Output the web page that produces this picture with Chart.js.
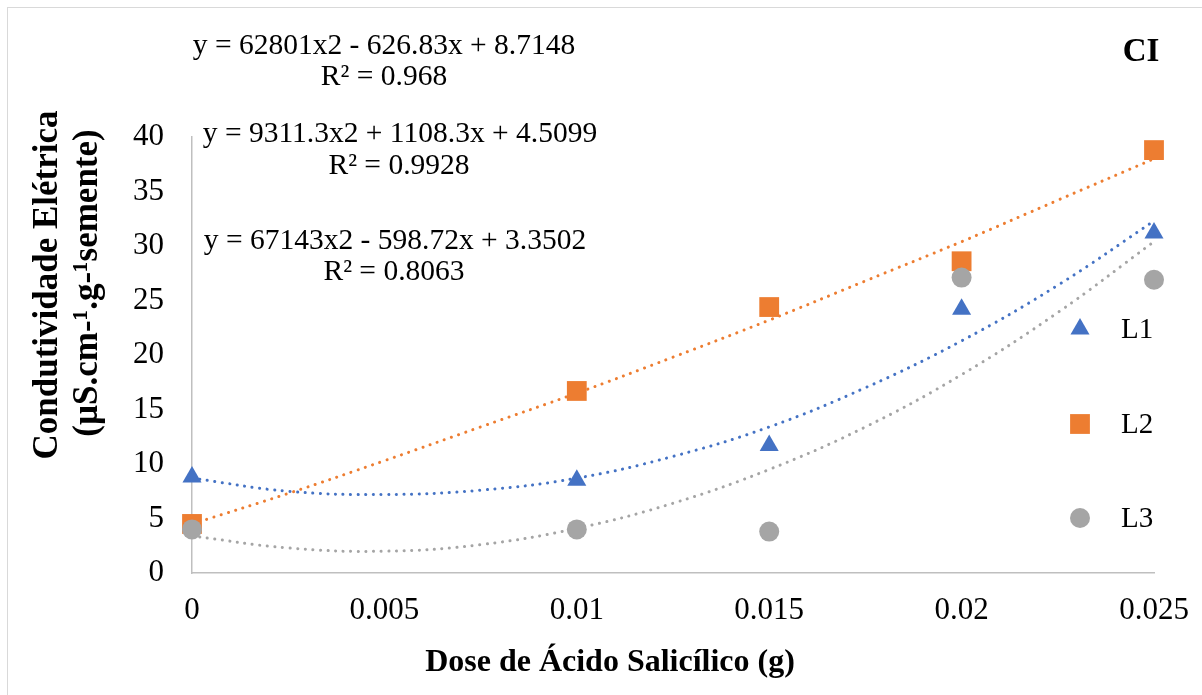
<!DOCTYPE html>
<html>
<head>
<meta charset="utf-8">
<script src="https://cdn.jsdelivr.net/npm/chart.js@4.4.1/dist/chart.umd.min.js"></script>
<style>
  body { margin: 0; background: #fff; }
  #wrap { position: relative; width: 1202px; height: 695px; overflow: hidden; font-family: "Liberation Serif", "Times New Roman", serif; color: #000; }
  #frame { position: absolute; left: 7px; top: 7px; width: 1240px; height: 740px; border: 1.5px solid #d9d9d9; }
  canvas { position: absolute; left: 0; top: 0; }
  .lbl { position: absolute; transform: translate(-50%, -50%); white-space: nowrap; line-height: 1; }
  .eq { font-size: 29.5px; }
  .rot { transform: translate(-50%, -50%) rotate(-90deg); font-weight: bold; font-size: 35px; }
</style>
</head>
<body>
<div id="wrap">
  <div id="frame"></div>
  <canvas id="grafik" width="1202" height="695"></canvas>
  <div class="lbl eq" style="left:384px;top:45px">y = 62801x2 - 626.83x + 8.7148</div>
  <div class="lbl eq" style="left:384px;top:76px">R² = 0.968</div>
  <div class="lbl eq" style="left:400px;top:133px">y = 9311.3x2 + 1108.3x + 4.5099</div>
  <div class="lbl eq" style="left:399px;top:165px">R² = 0.9928</div>
  <div class="lbl eq" style="left:395px;top:240px">y = 67143x2 - 598.72x + 3.3502</div>
  <div class="lbl eq" style="left:394px;top:271px">R² = 0.8063</div>
  <div class="lbl" style="left:1141px;top:50px;font-weight:bold;font-size:33px">CI</div>
  <div class="lbl rot" style="left:45px;top:285px">Condutividade Elétrica</div>
  <div class="lbl rot" style="left:85px;top:283px">(µS.cm-¹.g-¹semente)</div>
  <div class="lbl" style="left:610px;top:660px;font-weight:bold;font-size:32px">Dose de Ácido Salicílico (g)</div>
</div>
<script>
// olculen degerler
const doses = [0, 0.01, 0.015, 0.02, 0.025];
const l1 = [8.8, 8.5, 11.7, 24.2, 31.2];
const l2 = [4.5, 16.7, 24.4, 28.6, 38.8];
const l3 = [4.0, 4.0, 3.8, 27.1, 26.9];

// trend cizgileri
const trendX = [0, 0.0025, 0.005, 0.0075, 0.01, 0.0125, 0.015, 0.0175, 0.02, 0.0225, 0.025];
const trendL1 = [8.7, 7.5, 7.2, 7.6, 8.7, 10.7, 13.4, 17.0, 21.3, 26.4, 32.3];
const trendL2 = [4.5, 7.3, 10.3, 13.4, 16.5, 19.8, 23.2, 26.8, 30.4, 34.2, 38.0];
const trendL3 = [3.4, 2.3, 2.0, 2.6, 4.1, 6.4, 9.5, 13.4, 18.2, 23.9, 30.4];

const xTicks = [0, 0.005, 0.01, 0.015, 0.02, 0.025];
const xTickLabels = ['0', '0.005', '0.01', '0.015', '0.02', '0.025'];
const yTicks = [0, 5, 10, 15, 20, 25, 30, 35, 40];

const seriesNames = ['L1', 'L2', 'L3'];
const colors = ['#4472C4', '#ED7D31', '#A5A5A5'];
const styles = ['triangle', 'rect', 'circle'];
const radii = [11, 14, 10];

const toPoints = (xs, ys) => xs.map((x, i) => ({ x: x, y: ys[i] }));

const scatterSet = (idx, values) => ({
  type: 'scatter',
  label: seriesNames[idx],
  data: toPoints(doses, values),
  pointStyle: styles[idx],
  pointRadius: radii[idx],
  pointHoverRadius: radii[idx],
  pointBackgroundColor: colors[idx],
  pointBorderWidth: 0,
  clip: false,
  order: 3 - idx
});

const trendSet = (idx, values) => ({
  type: 'line',
  label: seriesNames[idx] + ' trend',
  data: toPoints(trendX, values),
  borderColor: colors[idx],
  borderWidth: 3,
  borderDash: [0.1, 7.5],
  borderCapStyle: 'round',
  pointRadius: 0,
  tension: 0.4,
  fill: false,
  clip: false,
  order: 10 + idx
});

// sag taraftaki lejant
const legendPlugin = {
  id: 'sagLejant',
  afterDraw(chart) {
    const ctx = chart.ctx;
    const ys = [329, 424, 518];
    seriesNames.forEach((name, i) => {
      ctx.save();
      ctx.fillStyle = colors[i];
      Chart.helpers.drawPoint(ctx, { pointStyle: styles[i], radius: radii[i], rotation: 0, borderWidth: 0 }, 1080, ys[i]);
      ctx.fillStyle = '#000';
      ctx.font = '29px "Liberation Serif", "Times New Roman", serif';
      ctx.textBaseline = 'middle';
      ctx.fillText(name, 1121, ys[i] + 1);
      ctx.restore();
    });
  }
};

const tickFont = { family: '"Liberation Serif", "Times New Roman", serif', size: 31 };

new Chart(document.getElementById('grafik'), {
  data: {
    datasets: [
      scatterSet(0, l1), scatterSet(1, l2), scatterSet(2, l3),
      trendSet(0, trendL1), trendSet(1, trendL2), trendSet(2, trendL3)
    ]
  },
  options: {
    responsive: false,
    animation: false,
    layout: { padding: { left: 0, top: 137, right: 48, bottom: 0 } },
    plugins: { legend: { display: false }, tooltip: { enabled: false } },
    scales: {
      x: {
        type: 'linear',
        min: 0,
        max: 0.025,
        afterBuildTicks: (axis) => { axis.ticks = xTicks.map(v => ({ value: v })); },
        afterFit: (axis) => { axis.height = 122; axis.paddingLeft = 0; axis.paddingRight = 0; },
        grid: { display: false, drawTicks: false },
        border: { display: true, color: '#BFBFBF', width: 1.5 },
        ticks: {
          color: '#000',
          font: tickFont,
          padding: 19,
          maxRotation: 0,
          autoSkip: false,
          callback: (v, i) => xTickLabels[i]
        }
      },
      y: {
        type: 'linear',
        min: 0,
        max: 40,
        afterBuildTicks: (axis) => { axis.ticks = yTicks.map(v => ({ value: v })); },
        afterFit: (axis) => { axis.width = 192; axis.paddingTop = 0; axis.paddingBottom = 0; },
        grid: { display: false, drawTicks: false },
        border: { display: true, color: '#BFBFBF', width: 1.5 },
        ticks: {
          color: '#000',
          font: tickFont,
          padding: 28,
          callback: (v) => String(v)
        }
      }
    }
  },
  plugins: [legendPlugin]
});
</script>
</body>
</html>
